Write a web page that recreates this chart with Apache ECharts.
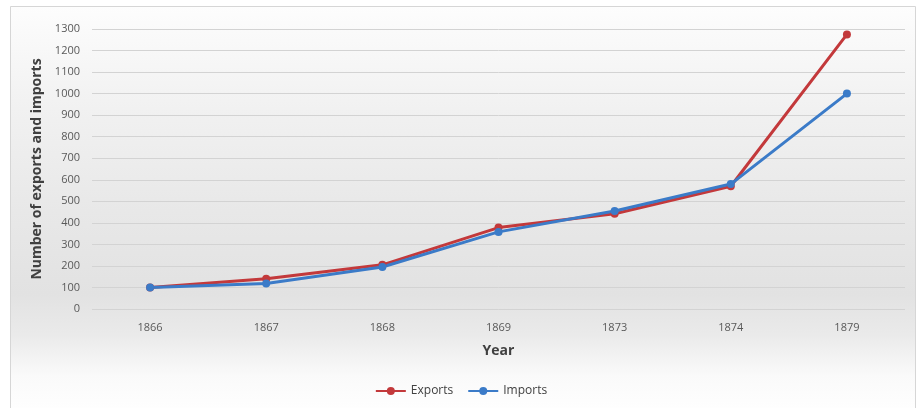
<!DOCTYPE html>
<html><head><meta charset="utf-8">
<script src="https://cdn.jsdelivr.net/npm/echarts@6/dist/echarts.min.js"></script>
<style>html,body{margin:0;padding:0;background:#fff}#c{width:922px;height:408px}</style>
</head><body><div id="c"></div>
<script>
const years = ['1866','1867','1868','1869','1873','1874','1879'];
const exportsData = [100, 140, 205, 378, 442, 570, 1275];
const importsData = [100, 118, 195, 358, 455, 580, 1000];
const yTicks = {min: 0, max: 1300, interval: 100};

const chart = echarts.init(document.getElementById('c'), null, {renderer: 'canvas'});
const font = '"Open Sans", "Liberation Sans", sans-serif';
chart.setOption({
  backgroundColor: '#fff',
  animation: false,
  graphic: [{
    type: 'rect', z: -100, silent: true,
    shape: {x: 10.5, y: 6.5, width: 905, height: 410},
    style: {
      stroke: '#d6d6d6', lineWidth: 1,
      fill: new echarts.graphic.LinearGradient(0, 0, 0, 1, [
        {offset: 0, color: '#fdfdfd'},
        {offset: 0.25, color: '#f1f1f1'},
        {offset: 0.5, color: '#e8e8e8'},
        {offset: 0.7, color: '#e2e2e2'},
        {offset: 0.8, color: '#eaeaea'},
        {offset: 0.9, color: '#fafafa'},
        {offset: 1, color: '#ffffff'}
      ])
    }
  }],
  grid: {left: 92, right: 17, top: 29, bottom: 99, containLabel: false},
  legend: {
    bottom: 6, left: 'center', itemWidth: 30, itemHeight: 10, itemGap: 14,
    textStyle: {fontFamily: font, fontSize: 12, color: '#404040'},
    data: ['Exports', 'Imports']
  },
  xAxis: {
    type: 'category', data: years, boundaryGap: true,
    name: 'Year', nameLocation: 'middle', nameGap: 35,
    nameTextStyle: {fontFamily: font, fontSize: 14, fontWeight: 'bold', color: '#404040'},
    axisLine: {show: false}, axisTick: {show: false},
    axisLabel: {fontFamily: font, fontSize: 11, color: '#595959', margin: 13}
  },
  yAxis: {
    type: 'value', min: yTicks.min, max: yTicks.max, interval: yTicks.interval,
    name: 'Number of exports and imports', nameLocation: 'middle', nameGap: 44,
    nameTextStyle: {fontFamily: font, fontSize: 14, fontWeight: 'bold', color: '#404040'},
    axisLine: {show: false}, axisTick: {show: false},
    axisLabel: {fontFamily: font, fontSize: 11, color: '#595959', margin: 12,
                formatter: v => String(v)},
    splitLine: {lineStyle: {color: '#d3d3d3', width: 1}}
  },
  series: [
    {name: 'Exports', type: 'line', data: exportsData, symbol: 'circle', symbolSize: 8,
     lineStyle: {width: 3, color: '#c3393b'}, itemStyle: {color: '#c3393b'}},
    {name: 'Imports', type: 'line', data: importsData, symbol: 'circle', symbolSize: 8,
     lineStyle: {width: 3, color: '#3b7bc8'}, itemStyle: {color: '#3b7bc8'}}
  ]
});
</script></body></html>
